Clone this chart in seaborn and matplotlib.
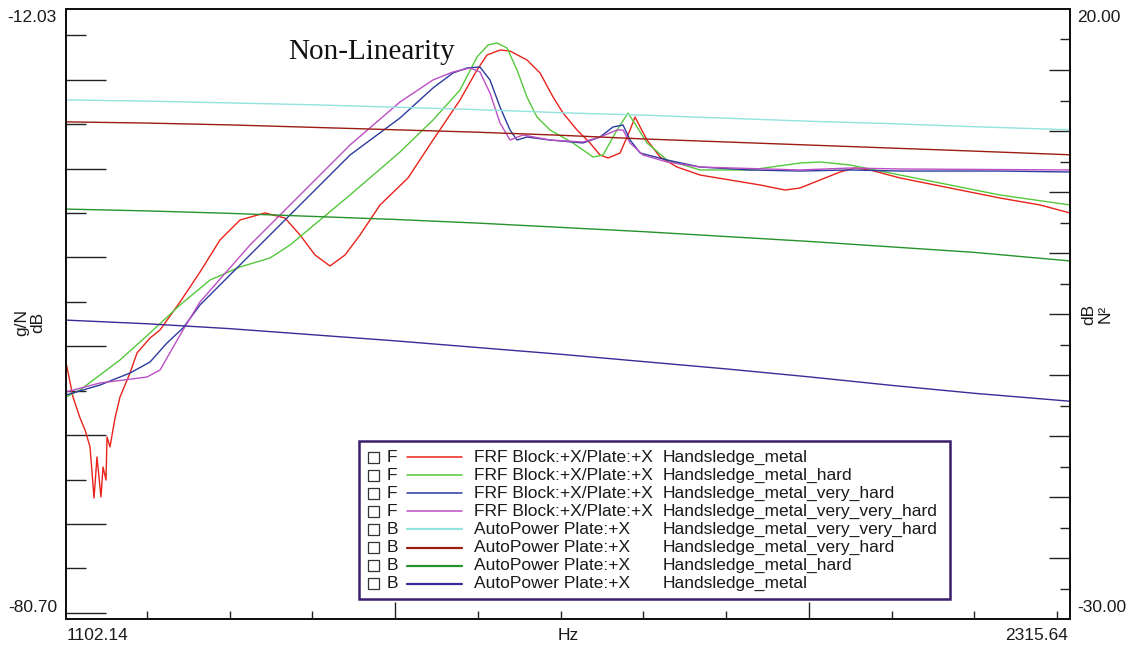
import numpy as np
import matplotlib
matplotlib.use("Agg")
import matplotlib.pyplot as plt
import seaborn as sns
from matplotlib.patches import Rectangle
from matplotlib.lines import Line2D
from matplotlib.ticker import FixedLocator

# ---------------- data ----------------
# FRF (left axis, g/N dB)
frf_metal_hz = [1102.1, 1110.6, 1119.1, 1125.1, 1131.2, 1136.0, 1139.6, 1144.4, 1146.9, 1150.5,
                1151.7, 1155.3, 1161.4, 1167.4, 1179.5, 1188.0, 1203.7, 1215.8, 1240.0, 1264.1,
                1288.3, 1312.5, 1342.7, 1366.8, 1385.0, 1403.1, 1421.2, 1439.4, 1457.5, 1481.7,
                1515.5, 1545.7, 1578.4, 1598.9, 1611.0, 1626.7, 1638.8, 1659.3, 1675.1, 1690.8,
                1702.9, 1719.8, 1735.5, 1747.6, 1757.3, 1771.8, 1783.9, 1789.9, 1796.1, 1804.4,
                1820.1, 1840.7, 1868.5, 1904.7, 1941.0, 1971.2, 1989.3, 2013.5, 2037.7, 2055.8,
                2073.9, 2110.2, 2170.6, 2231.1, 2279.4, 2315.6]
frf_metal_db = [-51.77, -55.71, -58.07, -59.42, -61.33, -67.08, -62.46, -66.96, -63.59, -65.05,
                -60.21, -61.33, -58.07, -55.71, -53.01, -50.75, -49.07, -48.16, -45.01, -41.64,
                -38.03, -35.78, -34.99, -35.56, -37.47, -39.72, -40.96, -39.72, -37.47, -34.09,
                -31.05, -26.78, -22.27, -18.90, -17.21, -16.65, -16.76, -17.77, -19.23, -21.94,
                -23.74, -25.65, -27.11, -28.47, -28.80, -28.24, -25.65, -24.19, -25.31, -26.78,
                -28.69, -29.82, -30.72, -31.28, -31.84, -32.41, -32.18, -31.28, -30.38, -29.93,
                -30.15, -31.05, -32.18, -33.31, -34.09, -34.99]

frf_hard_hz = [1102.1, 1119.1, 1143.2, 1167.4, 1203.7, 1240.0, 1276.2, 1312.5, 1348.7, 1372.9,
               1409.2, 1445.4, 1505.8, 1545.7, 1578.4, 1598.9, 1612.2, 1623.1, 1635.2, 1647.3,
               1659.3, 1671.4, 1687.2, 1714.9, 1739.1, 1751.2, 1768.2, 1781.5, 1792.3, 1804.4,
               1828.6, 1868.5, 1928.9, 1989.3, 2013.5, 2049.8, 2110.2, 2170.6, 2231.1, 2315.6]
frf_hard_db = [-55.71, -54.92, -53.23, -51.54, -48.50, -45.35, -42.54, -41.07, -40.06, -38.60,
               -35.78, -32.97, -28.13, -24.53, -21.15, -17.43, -16.08, -15.86, -16.42, -18.90,
               -21.94, -24.19, -25.65, -27.11, -28.69, -28.47, -25.65, -23.74, -25.31, -27.11,
               -29.03, -30.15, -30.15, -29.37, -29.25, -29.59, -30.72, -31.84, -32.97, -34.09]

frf_vhard_hz = [1102.1, 1143.2, 1179.5, 1203.7, 1224.2, 1243.6, 1264.1, 1324.5, 1385.0, 1445.4,
                1505.8, 1545.7, 1569.9, 1586.8, 1602.5, 1614.6, 1626.7, 1638.8, 1647.3, 1659.3,
                1687.2, 1727.0, 1747.6, 1763.3, 1775.4, 1783.9, 1796.1, 1828.6, 1868.5, 1928.9,
                1989.3, 2049.8, 2110.2, 2231.1, 2315.6]
frf_vhard_db = [-55.48, -54.36, -53.01, -51.77, -49.63, -47.94, -45.35, -39.72, -34.09, -28.47,
                -24.30, -20.92, -19.23, -18.67, -18.56, -20.02, -23.06, -25.65, -26.78, -26.44,
                -26.78, -27.11, -26.44, -25.31, -25.09, -26.78, -28.24, -29.03, -29.82, -30.15,
                -30.27, -30.15, -30.27, -30.27, -30.38]

frf_vvhard_hz = [1102.1, 1143.2, 1200.0, 1215.8, 1243.6, 1264.1, 1324.5, 1385.0, 1445.4, 1505.8,
                 1545.7, 1569.9, 1590.5, 1602.5, 1614.6, 1626.7, 1638.8, 1654.5, 1687.2, 1727.0,
                 1747.6, 1768.2, 1775.4, 1783.9, 1799.6, 1828.6, 1868.5, 1989.3, 2049.8, 2110.2,
                 2315.6]
frf_vvhard_db = [-55.14, -54.13, -53.46, -52.67, -48.16, -45.01, -38.60, -32.97, -27.34, -22.50,
                 -20.02, -19.12, -18.67, -19.12, -21.49, -24.86, -26.78, -26.21, -26.78, -27.00,
                 -26.44, -25.65, -25.65, -27.11, -28.47, -29.25, -29.82, -30.15, -29.93, -30.04,
                 -30.15]

# AutoPower (right axis, N^2 dB)
ap_hz = [1102.14, 1200, 1300, 1400, 1500, 1600, 1700, 1800, 1900, 2000, 2100, 2200, 2315.64]
ap_vvhard = [12.55, 12.45, 12.30, 12.15, 11.95, 11.75, 11.50, 11.30, 11.05, 10.80, 10.60, 10.35, 10.10]
ap_vhard = [10.75, 10.65, 10.50, 10.30, 10.10, 9.90, 9.65, 9.35, 9.10, 8.85, 8.60, 8.35, 8.05]
ap_hard = [3.60, 3.45, 3.25, 3.00, 2.75, 2.45, 2.10, 1.75, 1.35, 0.95, 0.50, 0.05, -0.65]
ap_metal = [-5.50, -5.80, -6.20, -6.70, -7.20, -7.75, -8.30, -8.90, -9.50, -10.15, -10.85, -11.50, -12.15]

legend_kind = ["F", "F", "F", "F", "B", "B", "B", "B"]
legend_meas = ["FRF Block:+X/Plate:+X"] * 4 + ["AutoPower Plate:+X"] * 4
legend_run = ["Handsledge_metal", "Handsledge_metal_hard", "Handsledge_metal_very_hard",
              "Handsledge_metal_very_very_hard", "Handsledge_metal_very_very_hard",
              "Handsledge_metal_very_hard", "Handsledge_metal_hard", "Handsledge_metal"]
colors = ["#e8231b", "#55c83c", "#2b3b9e", "#bb4fc4", "#93e3de", "#9b1c12", "#26932a", "#3b2a98"]

x_min, x_max = 1102.14, 2315.64
yl_min, yl_max = -80.70, -12.03
yr_min, yr_max = -30.0, 20.0

# ---------------- figure ----------------
sns.set_style("white")
plt.rcParams["font.family"] = ["Liberation Sans", "DejaVu Sans"]
W, H = 1130, 651
fig = plt.figure(figsize=(W / 100, H / 100), dpi=100)
L, R, T, B = 66, 1070, 9, 619
ax = fig.add_axes([L / W, 1 - B / H, (R - L) / W, (B - T) / H])
ax2 = ax.twinx()

frf = [(frf_metal_hz, frf_metal_db), (frf_hard_hz, frf_hard_db),
       (frf_vhard_hz, frf_vhard_db), (frf_vvhard_hz, frf_vvhard_db)]
for (fx, fy), c in zip(frf, colors[:4]):
    sns.lineplot(x=np.array(fx), y=np.array(fy), ax=ax, color=c, linewidth=1.0,
                 estimator=None, sort=False)
for vals, c in zip([ap_vvhard, ap_vhard, ap_hard, ap_metal], colors[4:]):
    sns.lineplot(x=np.array(ap_hz), y=np.array(vals), ax=ax2, color=c, linewidth=1.0,
                 estimator=None, sort=False)

ax.set_xlim(x_min, x_max)
ax.set_ylim(yl_min, yl_max)
ax2.set_ylim(yr_min, yr_max)
for a in (ax, ax2):
    a.set_xlabel("")
    a.set_ylabel("")
    for s in a.spines.values():
        s.set_color("#111111")
        s.set_linewidth(1.4)

tc = "#222222"
ax.xaxis.set_major_locator(FixedLocator([1500, 2000]))
ax.xaxis.set_minor_locator(FixedLocator([1200, 1300, 1400, 1600, 1700, 1800, 1900, 2100, 2200, 2300]))
ax.yaxis.set_major_locator(FixedLocator(list(range(-80, -19, 10))))
ax.yaxis.set_minor_locator(FixedLocator(list(range(-75, -14, 10))))
ax2.yaxis.set_major_locator(FixedLocator([15, 10, 5, 0, -5, -10, -15, -20, -25]))
ax2.yaxis.set_minor_locator(FixedLocator([17.5, 12.5, 7.5, 2.5, -2.5, -7.5, -12.5, -17.5, -22.5, -27.5]))

ax.tick_params(axis="x", which="major", direction="in", length=12.5, width=1, color=tc,
               bottom=True, top=False, labelbottom=False)
ax.tick_params(axis="x", which="minor", direction="in", length=6, width=1, color=tc,
               bottom=True, top=False)
ax.tick_params(axis="y", which="major", direction="in", length=29, width=1, color=tc,
               left=True, right=False, labelleft=False)
ax.tick_params(axis="y", which="minor", direction="in", length=14.5, width=1, color=tc,
               left=True, right=False)
ax2.tick_params(axis="y", which="major", direction="in", length=15, width=1, color=tc,
                right=True, left=False, labelright=False)
ax2.tick_params(axis="y", which="minor", direction="in", length=7.5, width=1, color=tc,
                right=True, left=False)
ax2.tick_params(axis="x", which="both", bottom=False, top=False, labelbottom=False)

fs = 12.5
def ft(px, py, s, **kw):
    kw.setdefault("fontsize", fs)
    kw.setdefault("color", "#1a1a1a")
    return fig.text(px / W, 1 - py / H, s, **kw)

ft(57, 17, f"{yl_max:.2f}", ha="right", va="center")
ft(57, 607, f"{yl_min:.2f}", ha="right", va="center")
ft(1077, 17, f"{yr_max:.2f}", ha="left", va="center")
ft(1077, 607, f"{yr_min:.2f}", ha="left", va="center")
ft(67, 636, f"{x_min:.2f}", ha="left", va="center")
ft(568, 636, "Hz", ha="center", va="center")
ft(1068, 636, f"{x_max:.2f}", ha="right", va="center")
ft(30, 322, "g/N\ndB", rotation=90, ha="center", va="center", linespacing=1.05)
ft(1097, 314, "dB\nN²", rotation=90, ha="center", va="center", linespacing=1.05)
ft(288, 52, "Non-Linearity", ha="left", va="center", fontsize=21,
   family=["Liberation Serif", "DejaVu Serif"], color="#111111")

# ---------------- legend box ----------------
fig.add_artist(Rectangle((359 / W, 1 - 599 / H), (950 - 359) / W, (599 - 441) / H,
                         transform=fig.transFigure, facecolor="white",
                         edgecolor="#3b1f6a", linewidth=1.8, zorder=5))
for i, (k, m, r, c) in enumerate(zip(legend_kind, legend_meas, legend_run, colors)):
    yc = 457 + i * 18.1
    fig.add_artist(Rectangle((368 / W, 1 - (yc + 5.5) / H), 11 / W, 11 / H,
                             transform=fig.transFigure, facecolor="white",
                             edgecolor="#333333", linewidth=0.9, zorder=6))
    ft(387, yc, k, ha="left", va="center", zorder=6)
    fig.add_artist(Line2D([407 / W, 462 / W], [1 - yc / H, 1 - yc / H],
                          transform=fig.transFigure, color=c,
                          linewidth=1.1 if k == "F" else 1.6, zorder=6))
    ft(474, yc, m, ha="left", va="center", zorder=6)
    ft(663, yc, r, ha="left", va="center", zorder=6)

fig.savefig("out.png", dpi=100)
